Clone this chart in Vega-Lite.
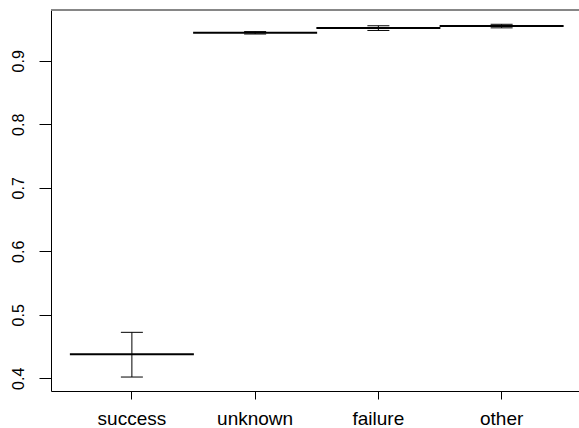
{
  "$schema": "https://vega.github.io/schema/vega-lite/v6.json",
  "autosize": "none",
  "padding": {"left": 51, "top": 10, "right": 0, "bottom": 37},
  "width": 528,
  "height": 381,
  "background": "white",
  "config": {"view": {"stroke": null}, "font": "Liberation Sans"},
  "data": {
    "values": [
      {"outcome": "success", "mean": 0.4378, "lo": 0.402, "hi": 0.4724},
      {"outcome": "unknown", "mean": 0.9441, "lo": 0.9422, "hi": 0.946},
      {"outcome": "failure", "mean": 0.9515, "lo": 0.9478, "hi": 0.9552},
      {"outcome": "other", "mean": 0.9547, "lo": 0.9519, "hi": 0.9575}
    ]
  },
  "encoding": {
    "x": {
      "field": "outcome",
      "type": "nominal",
      "sort": ["success", "unknown", "failure", "other"],
      "scale": {"paddingInner": 0, "paddingOuter": 0.142, "align": 0.55},
      "axis": {
        "title": null,
        "labelAngle": 0,
        "tickSize": 8,
        "labelPadding": 10,
        "labelFontSize": 19,
        "labelColor": "black",
        "domainColor": "black",
        "tickColor": "black",
        "grid": false
      }
    }
  },
  "layer": [
    {
      "mark": {"type": "rule", "color": "#7f7f7f", "strokeWidth": 1},
      "encoding": {"y": {"datum": 0.98, "type": "quantitative"}, "x": null}
    },
    {
      "mark": {"type": "tick", "thickness": 2, "size": 124, "color": "black", "opacity": 1},
      "encoding": {
        "y": {
          "field": "mean",
          "type": "quantitative",
          "scale": {"domain": [0.38, 0.98], "nice": false, "zero": false},
          "axis": {
            "title": null,
            "values": [0.4, 0.5, 0.6, 0.7, 0.8, 0.9],
            "format": ".1f",
            "labelAngle": -90,
            "labelAlign": "center",
            "labelBaseline": "bottom",
            "tickSize": 12,
            "labelPadding": 13,
            "labelFontSize": 16,
            "labelColor": "black",
            "domainColor": "black",
            "tickColor": "black",
            "grid": false
          }
        }
      }
    },
    {
      "mark": {"type": "rule", "color": "black", "strokeWidth": 1},
      "encoding": {"y": {"field": "lo", "type": "quantitative"}, "y2": {"field": "hi"}}
    },
    {
      "mark": {"type": "tick", "thickness": 1, "size": 22, "color": "black", "opacity": 1},
      "encoding": {"y": {"field": "lo", "type": "quantitative"}}
    },
    {
      "mark": {"type": "tick", "thickness": 1, "size": 22, "color": "black", "opacity": 1},
      "encoding": {"y": {"field": "hi", "type": "quantitative"}}
    }
  ]
}
